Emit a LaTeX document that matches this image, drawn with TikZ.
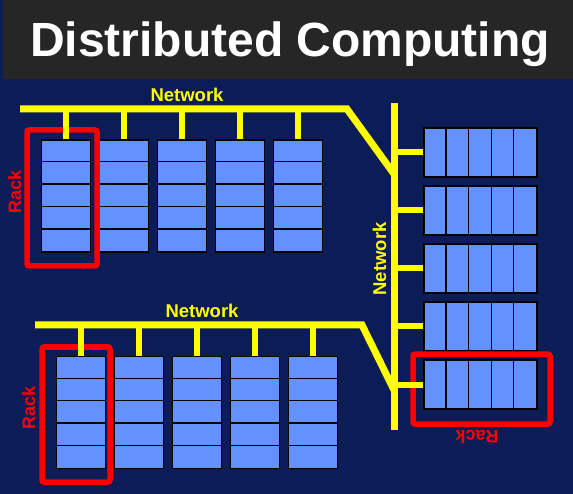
\documentclass[tikz,border=0pt]{standalone}
\usepackage{fontspec}
\setmainfont{Liberation Sans}
\definecolor{navy}{HTML}{0B1C56}
\definecolor{titlegray}{HTML}{262626}
\definecolor{slotblue}{HTML}{6391FF}
\definecolor{netyellow}{HTML}{FFFF00}
\definecolor{rackred}{HTML}{FF0000}
\begin{document}
\begin{tikzpicture}[x=1pt, y=-1pt,
	net/.style={netyellow, line width=7pt},
	drop/.style={netyellow, line width=6pt},
	vrack/.style={draw=black, fill=slotblue, line width=1.3pt, minimum width=49pt, minimum height=112pt, inner sep=0pt},
	hrack/.style={draw=black, fill=slotblue, line width=1.3pt, minimum width=113pt, minimum height=49pt, inner sep=0pt},
	divider/.style={black, line width=1.3pt},
	rackbox/.style={draw=rackred, line width=5.5pt, rounded corners=2pt, inner sep=0pt},
	netlabel/.style={text=netyellow, font=\fontsize{18.5}{18.5}\selectfont\bfseries, anchor=base, inner sep=0pt},
	racklabel/.style={text=rackred, font=\fontsize{18}{18}\selectfont\bfseries, anchor=base, inner sep=0pt}]
	\useasboundingbox (0,0) rectangle (573,494);
	
	% background and title bar
	\fill[navy] (0,0) rectangle (573,494);
	\fill[titlegray] (3,0) rectangle (573,79);
	\node[anchor=base, text=white, font=\fontsize{48}{48}\selectfont\bfseries] (title) at (290,57) {Distributed Computing};
	
	% network points
	\coordinate (topbar) at (20,109);
	\coordinate (topbend) at (347,109);
	\coordinate (topjoin) at (394,174);
	\coordinate (spinetop) at (394,103);
	\coordinate (spinebot) at (394,430);
	\coordinate (botbar) at (35,325);
	\coordinate (botbend) at (362,325);
	\coordinate (botjoin) at (394,390);
	
	% top racks
	\foreach \x [count=\i] in {66,124,182,240,298}{
		\node[vrack] (top\i) at (\x,196) {};
		\foreach \k in {1,...,4}
			\draw[divider] (top\i.north west) ++(0,\k*22.4) -- ++(49,0);
	}
	
	% bottom racks
	\foreach \x [count=\i] in {81,139,197,255,313}{
		\node[vrack] (bot\i) at (\x,412.5) {};
		\foreach \k in {1,...,4}
			\draw[divider] (bot\i.north west) ++(0,\k*22.4) -- ++(49,0);
	}
	
	% side racks
	\foreach \y [count=\i] in {152.5,210.5,268.5,326.5,384.5}{
		\node[hrack] (side\i) at (480.5,\y) {};
		\foreach \k in {1,...,4}
			\draw[divider] (side\i.north west) ++(\k*22.6,0) -- ++(0,49);
	}
	
	% rack frames
	\node[rackbox, minimum width=70pt, minimum height=136pt] (rackA) at (62,198) {};
	\node[rackbox, minimum width=68pt, minimum height=135pt] (rackB) at (76,414.5) {};
	\node[rackbox, minimum width=137pt, minimum height=70pt] (rackC) at (481.5,389) {};
	
	% network lines
	\draw[net] (topbar) -- (topbend) -- (topjoin);
	\draw[net] (botbar) -- (botbend) -- (botjoin);
	\draw[net] (spinetop) -- (spinebot);
	\foreach \i in {1,...,5}{
		\draw[drop] (top\i.north) -- (top\i.north |- topbar);
		\draw[drop] (bot\i.north) -- (bot\i.north |- botbar);
		\draw[drop] (side\i.west) -- (side\i.west -| spinetop);
	}
	
	% labels
	\node[netlabel] (netA) at (187,101.5) {Network};
	\node[netlabel] (netB) at (202,318) {Network};
	\node[netlabel, rotate=90] (netC) at (386,259) {Network};
	\node[racklabel, rotate=90] (labA) at (21,192) {Rack};
	\node[racklabel, rotate=90] (labB) at (35,408) {Rack};
	\node[racklabel, rotate=180] (labC) at (477,430) {Rack};
\end{tikzpicture}
\end{document}
